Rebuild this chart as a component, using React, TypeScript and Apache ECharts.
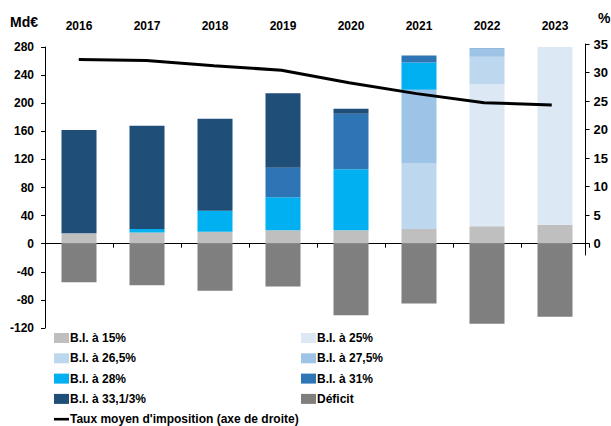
import React, { useEffect, useRef } from "react";
import * as echarts from "echarts";

const years = ["2016", "2017", "2018", "2019", "2020", "2021", "2022", "2023"];
const bi15 = [15, 16, 17, 19, 19, 21, 25, 27];
const bi25 = [0, 0, 0, 0, 0, 0, 202, 253];
const bi265 = [0, 0, 0, 0, 0, 93, 39, 3];
const bi275 = [0, 0, 0, 0, 0, 105, 11, 0];
const bi28 = [0, 5, 30, 47, 87, 39, 0, 0];
const bi31 = [0, 0, 0, 42, 79, 10, 1, 0];
const bi333 = [147, 147, 131, 106, 7, 0, 0, 0];
const deficit = [-55, -59, -67, -61, -102, -85, -114, -104];
const tauxMoyen = [32.3, 32.1, 31.2, 30.4, 28.2, 26.3, 24.7, 24.3];
const rightTicks = [0, 5, 10, 15, 20, 25, 30, 35];

const FONT = "'Liberation Sans', Arial, sans-serif";
const LINE_NAME = "Taux moyen d'imposition (axe de droite)";

export default function App() {
  const ref = useRef<HTMLDivElement>(null);
  useEffect(() => {
    if (!ref.current) return;
    const chart = echarts.init(ref.current, null, { renderer: "svg" });
    const bold = { fontFamily: FONT, fontWeight: "bold" as const, fontSize: 12, color: "#000" };
    const barSeries = [
      { name: "B.I. à 15%", data: bi15, color: "#bfbfbf" },
      { name: "B.I. à 25%", data: bi25, color: "#dde8f5" },
      { name: "B.I. à 26,5%", data: bi265, color: "#bdd7ee" },
      { name: "B.I. à 27,5%", data: bi275, color: "#9dc3e6" },
      { name: "B.I. à 28%", data: bi28, color: "#00b0f0" },
      { name: "B.I. à 31%", data: bi31, color: "#2e75b6" },
      { name: "B.I. à 33,1/3%", data: bi333, color: "#1f4e79" },
      { name: "Déficit", data: deficit, color: "#7f7f7f" },
    ].map((s) => ({
      type: "bar",
      name: s.name,
      data: s.data,
      stack: "total",
      xAxisIndex: 0,
      yAxisIndex: 0,
      barWidth: 35,
      itemStyle: { color: s.color },
    }));
    const legendBase = {
      orient: "vertical",
      top: 331,
      height: 120,
      padding: 0,
      itemWidth: 15,
      itemHeight: 10,
      itemGap: 6.3,
      selectedMode: false,
      icon: "rect",
      textStyle: { ...bold, lineHeight: 14, padding: [0, 0, 0, -4] },
    };
    chart.setOption({
      animation: false,
      backgroundColor: "#fff",
      textStyle: { fontFamily: FONT },
      graphic: [
        { type: "text", left: 10, top: 15, style: { text: "Md€", font: `bold 14px ${FONT}`, fill: "#000" } },
        { type: "text", left: 598, top: 11, style: { text: "%", font: `bold 14px ${FONT}`, fill: "#000" } },
      ],
      legend: [
        {
          ...legendBase,
          left: 54,
          data: [
            "B.I. à 15%",
            "B.I. à 26,5%",
            "B.I. à 28%",
            "B.I. à 33,1/3%",
            { name: LINE_NAME, icon: "path://M0,0 L15,0 L15,2.6 L0,2.6 Z", itemWidth: 15, itemHeight: 3 } as any,
          ],
        },
        { ...legendBase, left: 301, data: ["B.I. à 25%", "B.I. à 27,5%", "B.I. à 31%", "Déficit"] },
      ],
      grid: [
        { left: 45, right: 22, top: 47, height: 281, containLabel: false },
        { left: 45, right: 22, top: 44, height: 211, containLabel: false },
      ],
      xAxis: [
        {
          type: "category",
          data: years,
          gridIndex: 0,
          position: "top",
          axisLine: { show: false, onZero: false },
          axisTick: { show: false },
          axisLabel: { ...bold, margin: 15 },
        },
        {
          type: "category",
          data: years,
          gridIndex: 0,
          position: "bottom",
          axisLine: { show: true, onZero: true, lineStyle: { color: "#000", width: 1 } },
          axisTick: { show: true, inside: false, length: 4, lineStyle: { color: "#000" } },
          axisLabel: { show: false },
        },
        {
          type: "category",
          data: years,
          gridIndex: 1,
          show: false,
        },
      ],
      yAxis: [
        {
          type: "value",
          gridIndex: 0,
          min: -120,
          max: 280,
          interval: 40,
          axisLine: { show: true, lineStyle: { color: "#000", width: 1 } },
          axisTick: { show: true, inside: false, length: 4, lineStyle: { color: "#000" } },
          axisLabel: { ...bold, margin: 11 },
          splitLine: { show: false },
        },
        {
          type: "value",
          gridIndex: 1,
          position: "right",
          min: -2,
          max: 35,
          axisLine: { show: true, lineStyle: { color: "#000", width: 1 } },
          axisTick: { show: true, inside: false, length: 4, lineStyle: { color: "#000" }, customValues: rightTicks },
          axisLabel: { ...bold, fontSize: 13, margin: 8, customValues: rightTicks },
          splitLine: { show: false },
        },
      ],
      series: [
        ...barSeries,
        {
          type: "line",
          name: LINE_NAME,
          data: tauxMoyen,
          xAxisIndex: 2,
          yAxisIndex: 1,
          symbol: "none",
          color: "#000",
          itemStyle: { color: "#000" },
          lineStyle: { color: "#000", width: 3 },
        },
      ],
    });
    return () => chart.dispose();
  }, []);
  return <div ref={ref} style={{ width: 611, height: 426, position: "absolute", left: 0, top: 0 }} />;
}
